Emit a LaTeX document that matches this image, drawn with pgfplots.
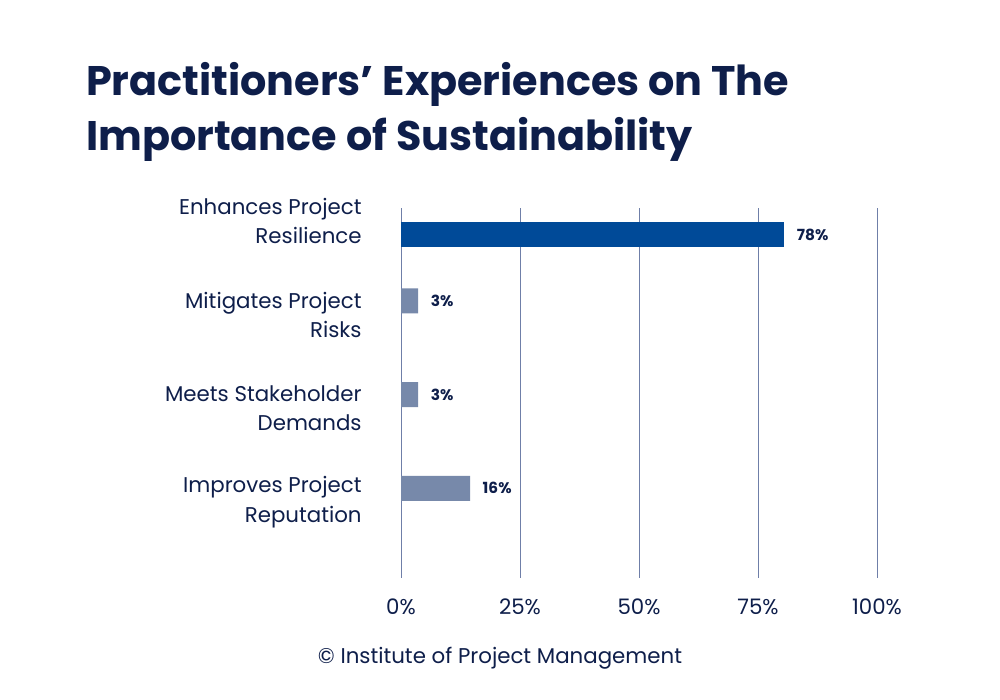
\documentclass[border=0pt]{standalone}
\usepackage{pgfplots}
\pgfplotsset{compat=1.18}
\usepackage{fontspec}
\setmainfont{Poppins}
\definecolor{navy}{HTML}{0E1E4A}
\definecolor{bluebar}{HTML}{004A98}
\definecolor{greybar}{HTML}{7789AA}
\definecolor{gridc}{HTML}{6F7FA8}
\begin{document}
\begin{tikzpicture}
\path (0pt,0pt) rectangle (750pt,525pt);
\node[anchor=west,text=navy,font=\fontsize{31}{41}\selectfont\bfseries,align=left] at (61pt,441pt) {Practitioners’ Experiences on The\\Importance of Sustainability};
\node[text=navy,font=\fontsize{16}{20}\selectfont] at (375pt,31.5pt) {© Institute of Project Management};
\begin{axis}[at={(300.75pt,91.5pt)},anchor=south west,scale only axis,
 width=357pt,height=277.5pt,
 xmin=0,xmax=100,ymin=-0.14,ymax=3.81,y dir=reverse,
 axis line style={draw=none},
 xtick={0,25,50,75,100},xticklabels={0\%,25\%,50\%,75\%,100\%},
 xmajorgrids,grid style={gridc,line width=0.6pt},
 major tick length=0pt,
 ytick={0,1,2,3},
 yticklabels={{Enhances Project\\Resilience},{Mitigates Project\\Risks},{Meets Stakeholder\\Demands},{Improves Project\\Reputation}},
 yticklabel style={align=right,text=navy,font=\fontsize{16}{22}\selectfont,xshift=-26pt},
 xticklabel style={text=navy,font=\fontsize{16}{20}\selectfont,yshift=-12pt},
 xbar,bar width=18.75pt,
 nodes near coords={\pgfplotspointmeta\%},
 point meta=explicit symbolic,
 nodes near coords style={text=navy,font=\fontsize{11.5}{14}\selectfont\bfseries,anchor=west,xshift=6pt},
]
\addplot[fill=bluebar,draw=none] table[meta=l] {
x y l
80.5 0 78
};
\addplot[fill=greybar,draw=none] table[meta=l] {
x y l
3.6 1 3
3.6 2 3
14.5 3 16
};
\end{axis}
\end{tikzpicture}
\end{document}
